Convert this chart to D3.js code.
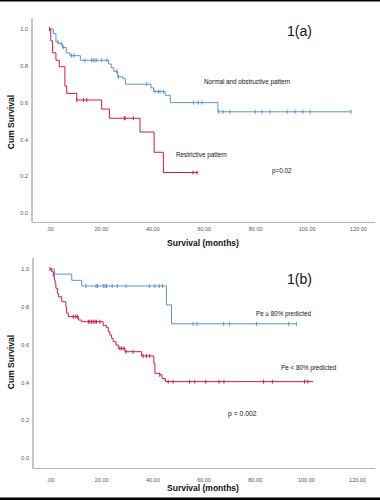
<!DOCTYPE html>
<html><head><meta charset="utf-8">
<script src="https://cdn.jsdelivr.net/npm/d3@7"></script>
<style>html,body{margin:0;padding:0;background:#fff;}svg{display:block;}</style>
</head><body>
<svg id="c" width="380" height="500"></svg>
<script>
// ---- Data (time in months, cumulative survival) ----
const xTicks = [0, 20, 40, 60, 80, 100, 120];
const xTickLabels = [".00", "20.00", "40.00", "60.00", "80.00", "100.00", "120.00"];
const yTicks = [0, 0.2, 0.4, 0.6, 0.8, 1.0];
const yTickLabels = ["0.0", "0.2", "0.4", "0.6", "0.8", "1.0"];

// Panel 1(a)
const aBlueTimes = [0, 1.5, 2.5, 3.5, 5, 6.5, 8, 12, 23, 24, 25, 26.5, 28.5, 29.5, 39.5, 40.5, 45, 47, 65.5];
const aBlueSurv  = [1, 0.975, 0.93, 0.92, 0.90, 0.87, 0.855, 0.83, 0.81, 0.79, 0.77, 0.74, 0.73, 0.70, 0.68, 0.66, 0.64, 0.60, 0.55];
const aBlueEnd = 117.3;
const aBlueCensor = [3.3, 4.7, 5.4, 8.5, 9.5, 13.8, 16.4, 17, 17.7, 18.4, 20.3, 22.3, 26.1, 26.8, 37.8, 41, 42.3, 43, 44.3, 56, 57.8, 59.3, 65.8, 67.5, 70.2, 80, 82.7, 85.8, 92.4, 95.5, 98.6, 101.4, 117.3];

const aRedTimes = [0, 0.5, 1.2, 2.5, 3.8, 6.0, 6.7, 10.6, 20.3, 23.3, 35.2, 40.7, 44.3];
const aRedSurv  = [1, 0.936, 0.871, 0.83, 0.795, 0.69, 0.65, 0.614, 0.565, 0.515, 0.44, 0.33, 0.22];
const aRedEnd = 57.8;
const aRedCensor = [0, 10.6, 13.2, 14.5, 29.1, 29.4, 32.6, 55.8, 57.4];

// Panel 1(b)
const bBlueTimes = [0, 1.7, 8.5, 12.4, 45.5, 47.5];
const bBlueSurv  = [1, 0.973, 0.94, 0.91, 0.81, 0.71];
const bBlueEnd = 96.3;
const bBlueCensor = [1.7, 14, 18, 18.6, 20.8, 21.5, 22.1, 24.3, 26.3, 29.7, 38.8, 41, 42.7, 44, 55.9, 57.5, 67.9, 70.2, 80.7, 93.3, 96.3];

const bRedTimes = [0, 0.65, 1.3, 1.7, 2.0, 2.3, 2.9, 3.3, 4.6, 6.2, 6.5, 7.2, 11.1, 12.4, 20.8, 22.1, 22.8, 23.4, 24.1, 24.7, 25.8, 26.7, 29.3, 35.8, 40.6, 41.0, 42.9, 43.8, 45.1];
const bRedSurv  = [1, 0.986, 0.963, 0.942, 0.924, 0.898, 0.871, 0.853, 0.827, 0.80, 0.766, 0.748, 0.73, 0.721, 0.70, 0.69, 0.668, 0.651, 0.633, 0.615, 0.598, 0.58, 0.5625, 0.54, 0.50, 0.448, 0.44, 0.42, 0.404];
const bRedEnd = 102.8;
const bRedCensor = [0, 9.1, 10.1, 10.7, 15, 15.6, 16.3, 16.9, 17.6, 18.2, 19.5, 27.3, 28, 28.9, 29.7, 32.5, 36.4, 37.7, 39, 42.9, 46.2, 48.1, 54.6, 56.6, 60.9, 66.1, 68, 83.5, 86.9, 99.5, 100.8];

const BLUE = "#5f93d4";
const RED = "#cf1b47";
const FONT = "'Liberation Sans', Arial, sans-serif";

const svg = d3.select("#c");
svg.append("rect").attr("x", 0).attr("y", 0).attr("width", 380).attr("height", 500).attr("fill", "#fff");
svg.append("rect").attr("x", 0).attr("y", 0).attr("width", 380).attr("height", 1.5).attr("fill", "#000");
svg.append("rect").attr("x", 0).attr("y", 497.5).attr("width", 380).attr("height", 2.5).attr("fill", "#000");

function panel(cfg) {
  const g = svg.append("g");
  const x = d3.scaleLinear().domain([0, 120]).range([cfg.x0, cfg.x1]);
  const y = d3.scaleLinear().domain([0, 1]).range([cfg.y0, cfg.y1]);

  // axes lines
  g.append("line").attr("x1", cfg.axX).attr("x2", cfg.axX).attr("y1", cfg.axTop).attr("y2", cfg.axY)
    .attr("stroke", "#8c8c8c").attr("stroke-width", 1);
  g.append("line").attr("x1", cfg.axX).attr("x2", 375).attr("y1", cfg.axY).attr("y2", cfg.axY)
    .attr("stroke", "#b5b5b5").attr("stroke-width", 1);

  // tick labels
  const xa = d3.axisBottom(x).tickValues(xTicks).tickSize(0).tickFormat((d, i) => xTickLabels[i]);
  const xg = g.append("g").attr("transform", `translate(0,${cfg.axY})`).call(xa);
  xg.select(".domain").remove();
  xg.selectAll("text").attr("font-family", FONT).attr("font-size", 5.5).attr("fill", "#555").attr("dy", "0").attr("y", cfg.xLabY - cfg.axY);

  const ya = d3.axisLeft(y).tickValues(yTicks).tickSize(0).tickFormat((d, i) => yTickLabels[i]);
  const yg = g.append("g").attr("transform", `translate(${cfg.axX},0)`).call(ya);
  yg.select(".domain").remove();
  yg.selectAll("text").attr("font-family", FONT).attr("font-size", 5.5).attr("fill", "#555").attr("x", -4).attr("dy", "0.32em");

  // axis titles
  g.append("text").attr("x", 203).attr("y", cfg.xTitleY).attr("text-anchor", "middle")
    .attr("font-family", FONT).attr("font-weight", "bold").attr("font-size", 8.5).attr("fill", "#111")
    .text("Survival (months)");
  g.append("text").attr("transform", `translate(14,${cfg.yTitleC}) rotate(-90)`).attr("text-anchor", "middle")
    .attr("font-family", FONT).attr("font-weight", "bold").attr("font-size", 8.5).attr("fill", "#111")
    .text("Cum Survival");

  // curves
  const line = d3.line().x(d => x(d[0])).y(d => y(d[1])).curve(d3.curveStepAfter);
  cfg.series.forEach(s => {
    const pts = s.times.map((t, i) => [t, s.surv[i]]);
    pts.push([s.end, s.surv[s.surv.length - 1]]);
    g.append("path").attr("d", line(pts)).attr("fill", "none").attr("stroke", s.color).attr("stroke-width", 1);
    const survAt = t => { let v = 1; s.times.forEach((tt, i) => { if (tt <= t) v = s.surv[i]; }); return v; };
    g.selectAll(null).data(s.censor).enter().append("line")
      .attr("x1", d => x(d)).attr("x2", d => x(d))
      .attr("y1", d => y(survAt(d)) - 2).attr("y2", d => y(survAt(d)) + 2)
      .attr("stroke", s.color).attr("stroke-width", 1);
  });

  // annotations
  cfg.notes.forEach(n => {
    g.append("text").attr("x", n.x).attr("y", n.y).attr("text-anchor", n.anchor || "start")
      .attr("font-family", FONT).attr("font-size", n.size).attr("fill", "#111").text(n.text);
  });
}

panel({
  x0: 49.5, x1: 358, y0: 213, y1: 29, axX: 32, axY: 222.5, axTop: 18, xLabY: 231, xTitleY: 246, yTitleC: 122,
  series: [
    { times: aBlueTimes, surv: aBlueSurv, end: aBlueEnd, censor: aBlueCensor, color: BLUE },
    { times: aRedTimes, surv: aRedSurv, end: aRedEnd, censor: aRedCensor, color: RED }
  ],
  notes: [
    { text: "1(a)", x: 299.5, y: 36, size: 14, anchor: "middle" },
    { text: "Normal and obstructive pattern", x: 204, y: 83.5, size: 6.3 },
    { text: "Restrictive pattern", x: 176, y: 156.5, size: 6.3 },
    { text: "p=0.02", x: 272, y: 172.5, size: 6.3 }
  ]
});

panel({
  x0: 50, x1: 357, y0: 458, y1: 269, axX: 33, axY: 468.5, axTop: 258, xLabY: 481.5, xTitleY: 491, yTitleC: 362,
  series: [
    { times: bBlueTimes, surv: bBlueSurv, end: bBlueEnd, censor: bBlueCensor, color: BLUE },
    { times: bRedTimes, surv: bRedSurv, end: bRedEnd, censor: bRedCensor, color: RED }
  ],
  notes: [
    { text: "1(b)", x: 299.5, y: 284, size: 14, anchor: "middle" },
    { text: "Pe \u2265 80% predicted", x: 256, y: 315.5, size: 6.3 },
    { text: "Pe < 80% predicted", x: 281, y: 369.5, size: 6.3 },
    { text: "p = 0.002", x: 228, y: 415.5, size: 6.8 }
  ]
});
</script>
</body></html>
